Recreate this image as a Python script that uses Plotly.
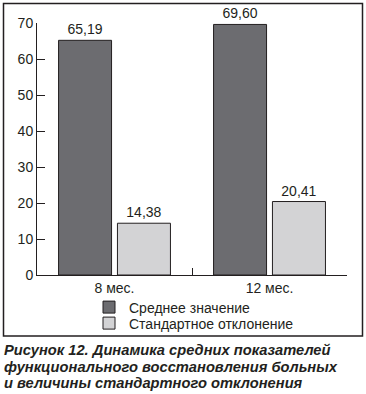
import plotly.graph_objects as go

categories = ["8 мес.", "12 мес."]
mean_values = [65.19, 69.60]
std_values = [14.38, 20.41]
series_names = ["Среднее значение", "Стандартное отклонение"]
y_ticks = [0, 10, 20, 30, 40, 50, 60, 70]
caption_lines = [
    "Рисунок 12. Динамика средних показателей",
    "функционального восстановления больных",
    "и величины стандартного отклонения",
]

INK = "#231f20"
FONT = "Liberation Sans, Arial, sans-serif"

W, H = 366, 394
L, R, T, B = 37, 19, 23, 119
pw, ph = W - L - R, H - T - B

def px_x(px):
    return (px - L) / pw

def px_y(py):
    return (H - B - py) / ph

fig = go.Figure()
fig.add_trace(go.Bar(
    x=categories, y=mean_values, name=series_names[0], legend="legend",
    marker=dict(color="#6c6c70", line=dict(color=INK, width=1)),
    texttemplate="%{y:.2f}", textposition="outside",
    textfont=dict(size=14, color=INK, family=FONT), cliponaxis=False,
))
fig.add_trace(go.Bar(
    x=categories, y=std_values, name=series_names[1], legend="legend2",
    marker=dict(color="#d3d3d5", line=dict(color=INK, width=1)),
    texttemplate="%{y:.2f}", textposition="outside",
    textfont=dict(size=14, color=INK, family=FONT), cliponaxis=False,
))

legend_common = dict(
    xanchor="left", yanchor="middle",
    font=dict(size=14, color=INK, family=FONT),
    bgcolor="rgba(0,0,0,0)", itemwidth=30,
)

annotations = []
for i, line in enumerate(caption_lines):
    annotations.append(dict(
        text="<b><i>" + line + "</i></b>",
        xref="paper", yref="paper", x=px_x(2), y=px_y(350 + i * 16.5),
        xanchor="left", yanchor="middle", align="left", showarrow=False,
        font=dict(size=14.7, color=INK, family=FONT),
    ))

fig.update_layout(
    width=W, height=H,
    margin=dict(l=L, r=R, t=T, b=B),
    paper_bgcolor="white", plot_bgcolor="white",
    separators=", ",
    barmode="group", bargap=0.24, bargroupgap=0.1,
    font=dict(family=FONT, size=14, color=INK),
    showlegend=True,
    legend=dict(x=px_x(89), y=px_y(307.5), **legend_common),
    legend2=dict(x=px_x(89), y=px_y(323.5), **legend_common),
    xaxis=dict(
        range=[-0.5, 1.5], showline=True, linecolor=INK, linewidth=1,
        ticks="inside", tickson="boundaries", ticklen=7, tickcolor=INK,
        showgrid=False, tickfont=dict(size=14, color=INK),
    ),
    yaxis=dict(
        range=[0, 70], tickvals=y_ticks, showline=True, linecolor=INK, linewidth=1,
        ticks="inside", ticklen=8, tickcolor=INK, showgrid=False, zeroline=False,
        tickfont=dict(size=14, color=INK),
    ),
    shapes=[dict(
        type="rect", xref="paper", yref="paper",
        x0=px_x(3.5), x1=px_x(362.5), y0=px_y(336), y1=px_y(3.5),
        line=dict(color=INK, width=1.5), layer="below",
    )],
    annotations=annotations,
)

fig.write_html(
    "out.html",
    config={"displayModeBar": False},
    post_script="document.body.style.margin='0';document.body.style.overflow='hidden';",
)
